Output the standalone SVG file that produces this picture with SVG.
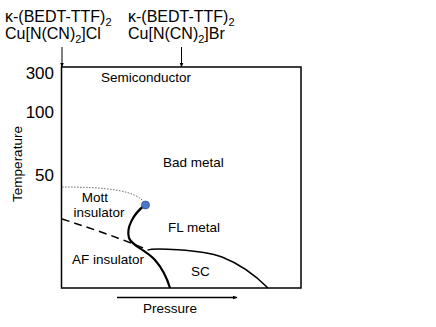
<svg xmlns="http://www.w3.org/2000/svg" width="436" height="327" viewBox="0 0 436 327">
<defs>
<marker id="ah" viewBox="0 0 10 10" refX="9" refY="5" markerWidth="5" markerHeight="5" orient="auto" markerUnits="userSpaceOnUse">
<path d="M0,1 L10,5 L0,9 z" fill="#000"/>
</marker>
<style>
text{font-family:"Liberation Sans",Arial,sans-serif;fill:#000}
.t{font-size:16px}
.ax{font-size:17px}
.lb{font-size:13.5px}
.sub{font-size:11px}
</style>
</defs>
<rect width="436" height="327" fill="#fff"/>
<g id="frame">
<rect x="61.5" y="67" width="239.5" height="221" fill="none" stroke="#000" stroke-width="1.5"/>
</g>
<g id="compound-cl">
<text class="t" x="5" y="21.5">κ-(BEDT-TTF)<tspan class="sub" dy="4">2</tspan></text>
<text class="t" x="5" y="38.5">Cu[N(CN)<tspan class="sub" dy="4">2</tspan><tspan dy="-4">]Cl</tspan></text>
</g>
<g id="compound-br">
<text class="t" x="128" y="21.5">κ-(BEDT-TTF)<tspan class="sub" dy="4">2</tspan></text>
<text class="t" x="128" y="38.5">Cu[N(CN)<tspan class="sub" dy="4">2</tspan><tspan dy="-4">]Br</tspan></text>
</g>
<g id="yaxis">
<text class="ax" x="54" y="78.5" text-anchor="end">300</text>
<text class="ax" x="54" y="117.5" text-anchor="end">100</text>
<text class="ax" x="54" y="180.5" text-anchor="end">50</text>
<text class="lb" transform="translate(22,164) rotate(-90)" text-anchor="middle">Temperature</text>
</g>
<g id="labels">
<text class="lb" x="101" y="82">Semiconductor</text>
<text class="lb" x="163" y="167">Bad metal</text>
<text class="lb" x="95" y="202" text-anchor="middle">Mott</text>
<text class="lb" x="99" y="217" text-anchor="middle">insulator</text>
<text class="lb" x="168" y="232">FL metal</text>
<text class="lb" x="72" y="264">AF insulator</text>
<text class="lb" x="191" y="276">SC</text>
<text class="lb" x="170" y="313" text-anchor="middle">Pressure</text>
</g>
<g id="connectors" fill="none" stroke="#000">
<line x1="62" y1="47" x2="62" y2="67" stroke-width="1" marker-end="url(#ah)"/>
<line x1="181.5" y1="47" x2="181.5" y2="67" stroke-width="1" marker-end="url(#ah)"/>
<line x1="117" y1="297.5" x2="237" y2="297.5" stroke-width="1.3" marker-end="url(#ah)"/>
<path d="M62,187 C105,187 138,190 145,204" stroke-width="0.8" stroke-dasharray="1.5,1.5" stroke="#444"/>
<path d="M62,219 C90,228 120,238 148,250" stroke-width="1.5" stroke-dasharray="8,5"/>
<path d="M145,205 C133,214 126,228 129,238 C132,246 146,250 155,260 C162,268 167,278 170,288" stroke-width="2.2"/>
<path d="M148,250 C152,248 200,249 222,257 C240,264 255,275 268,288" stroke-width="1.5"/>
</g>
<g id="critical-point">
<circle cx="145.5" cy="205" r="4" fill="#4a78c8" stroke="#2a4a8a" stroke-width="0.7"/>
</g>
</svg>
